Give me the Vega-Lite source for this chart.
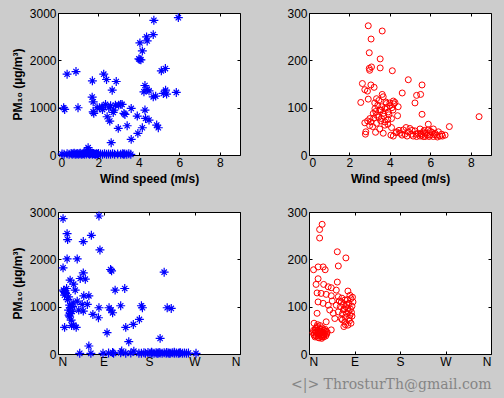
{
  "$schema": "https://vega.github.io/schema/vega-lite/v6.json",
  "background": "#cccccc",
  "padding": {"left": 10, "top": 6, "right": 12, "bottom": 6},
  "config": {
    "view": {"fill": "white", "stroke": "black", "strokeWidth": 1},
    "axis": {
      "domain": false, "grid": false, "tickColor": "black", "tickSize": -3, "tickWidth": 1, "format": "d",
      "labelFont": "Liberation Sans", "labelFontSize": 12, "labelColor": "black", "labelPadding": 5,
      "titleFont": "Liberation Sans", "titleFontSize": 12, "titleFontWeight": "bold", "titleColor": "black", "titlePadding": 5
    }
  },
  "datasets": {
    "bs": [
      {"w":4.74,"pm":2845},{"w":5.95,"pm":2902},{"w":4.71,"pm":2543},{"w":4.38,"pm":2494},{"w":4.41,"pm":2410},{"w":4.05,"pm":2368},{"w":4.17,"pm":2199},{"w":4.05,"pm":2016},{"w":4.0,"pm":2030},{"w":4.1,"pm":2010},
      {"w":0.45,"pm":1707},{"w":0.89,"pm":1763},{"w":1.70,"pm":1567},{"w":2.26,"pm":1707},{"w":2.40,"pm":1595},{"w":2.88,"pm":1553},{"w":2.68,"pm":1370},{"w":5.11,"pm":1778},{"w":5.31,"pm":1827},{"w":4.30,"pm":1468},
      {"w":4.25,"pm":1335},{"w":4.50,"pm":1356},{"w":4.41,"pm":1384},{"w":4.71,"pm":1230},{"w":4.83,"pm":1244},{"w":5.32,"pm":1370},{"w":5.37,"pm":1286},{"w":5.21,"pm":1300},{"w":5.85,"pm":1321},{"w":1.69,"pm":1223},
      {"w":1.74,"pm":1124},{"w":0.28,"pm":998},{"w":0.33,"pm":963},{"w":0.99,"pm":998},{"w":1.74,"pm":913},{"w":1.77,"pm":880},{"w":1.93,"pm":998},{"w":2.18,"pm":1019},{"w":2.35,"pm":1068},{"w":2.51,"pm":998},
      {"w":2.84,"pm":1054},{"w":3.0,"pm":1054},{"w":3.17,"pm":1068},{"w":3.1,"pm":1070},{"w":2.73,"pm":899},{"w":2.76,"pm":949},{"w":3.26,"pm":878},{"w":3.31,"pm":857},{"w":3.62,"pm":984},{"w":2.43,"pm":808},
      {"w":2.56,"pm":717},{"w":2.98,"pm":562},{"w":3.42,"pm":618},{"w":3.92,"pm":822},{"w":4.30,"pm":949},{"w":4.33,"pm":773},{"w":4.50,"pm":738},{"w":4.88,"pm":632},{"w":4.96,"pm":576},{"w":4.17,"pm":576},
      {"w":3.95,"pm":457},{"w":3.62,"pm":330},{"w":2.63,"pm":260},{"w":1.49,"pm":155},{"w":2.05,"pm":1000},{"w":2.2,"pm":960},{"w":2.6,"pm":1040},
      {"w":0.2,"pm":20},{"w":0.3,"pm":15},{"w":0.45,"pm":25},{"w":0.55,"pm":15},{"w":0.65,"pm":30},{"w":0.7,"pm":15},{"w":0.75,"pm":25},{"w":0.8,"pm":40},{"w":0.85,"pm":15},{"w":0.9,"pm":20},
      {"w":0.95,"pm":30},{"w":1.0,"pm":15},{"w":1.05,"pm":25},{"w":1.1,"pm":35},{"w":1.15,"pm":15},{"w":1.2,"pm":20},{"w":1.25,"pm":30},{"w":1.3,"pm":15},{"w":1.35,"pm":45},{"w":1.4,"pm":20},
      {"w":1.45,"pm":60},{"w":1.5,"pm":30},{"w":1.55,"pm":15},{"w":1.6,"pm":25},{"w":1.65,"pm":40},{"w":1.7,"pm":15},{"w":1.75,"pm":30},{"w":1.8,"pm":20},{"w":1.85,"pm":15},{"w":1.9,"pm":25},
      {"w":1.95,"pm":15},{"w":2.0,"pm":30},{"w":2.1,"pm":20},{"w":2.2,"pm":15},{"w":2.3,"pm":25},{"w":2.4,"pm":15},{"w":2.5,"pm":20},{"w":2.6,"pm":15},{"w":2.7,"pm":25},{"w":2.8,"pm":15},
      {"w":2.95,"pm":20},{"w":3.1,"pm":15},{"w":3.2,"pm":25},{"w":3.25,"pm":15},{"w":3.3,"pm":20},{"w":3.4,"pm":15},{"w":3.5,"pm":25},{"w":3.6,"pm":15},{"w":1.4,"pm":90},{"w":1.6,"pm":70}
    ],
    "rs": [
      {"w":2.93,"pm":273},{"w":3.62,"pm":262},{"w":3.07,"pm":245},{"w":2.98,"pm":216},{"w":3.52,"pm":203},{"w":2.98,"pm":183},{"w":3.09,"pm":186},{"w":3.0,"pm":179},{"w":3.52,"pm":184},{"w":4.12,"pm":178},
      {"w":4.91,"pm":159},{"w":5.59,"pm":148},{"w":2.64,"pm":151},{"w":3.06,"pm":148},{"w":3.22,"pm":143},{"w":2.76,"pm":138},{"w":2.89,"pm":135},{"w":4.61,"pm":131},{"w":3.62,"pm":128},{"w":3.67,"pm":123},
      {"w":5.32,"pm":126},{"w":5.52,"pm":128},{"w":5.24,"pm":110},{"w":2.56,"pm":111},{"w":2.93,"pm":118},{"w":3.34,"pm":119},{"w":3.83,"pm":109},{"w":4.17,"pm":114},{"w":4.25,"pm":111},{"w":4.0,"pm":104},
      {"w":4.41,"pm":102},{"w":3.26,"pm":98},{"w":3.5,"pm":95},{"w":3.75,"pm":98},{"w":3.18,"pm":88},{"w":3.34,"pm":84},{"w":3.67,"pm":88},{"w":3.92,"pm":91},{"w":4.38,"pm":83},{"w":5.59,"pm":86},
      {"w":8.41,"pm":81},{"w":3.01,"pm":77},{"w":3.59,"pm":77},{"w":4.08,"pm":77},{"w":2.76,"pm":68},{"w":3.06,"pm":70},{"w":3.34,"pm":67},{"w":3.75,"pm":63},{"w":4.08,"pm":58},{"w":5.9,"pm":65},
      {"w":6.94,"pm":60},{"w":2.81,"pm":49},{"w":2.79,"pm":44},{"w":3.29,"pm":48},{"w":3.67,"pm":46},{"w":4.05,"pm":42},{"w":4.17,"pm":40},
      {"w":3.4,"pm":105},{"w":3.3,"pm":92},{"w":3.45,"pm":80},{"w":3.55,"pm":72},{"w":3.7,"pm":82},{"w":3.85,"pm":100},{"w":3.9,"pm":75},{"w":4.0,"pm":110},{"w":4.1,"pm":100},{"w":4.2,"pm":108},
      {"w":3.8,"pm":112},{"w":3.6,"pm":102},{"w":3.2,"pm":78},{"w":3.15,"pm":60},{"w":3.5,"pm":55},{"w":3.9,"pm":65},{"w":4.3,"pm":47},{"w":3.0,"pm":62},{"w":2.9,"pm":72},{"w":3.25,"pm":110},
      {"w":3.45,"pm":115},{"w":3.55,"pm":95},{"w":3.75,"pm":70},{"w":3.95,"pm":85},{"w":4.15,"pm":95},
      {"w":4.33,"pm":49},{"w":4.5,"pm":46},{"w":4.66,"pm":53},{"w":4.74,"pm":44},{"w":4.91,"pm":49},{"w":4.99,"pm":56},{"w":5.07,"pm":44},{"w":5.24,"pm":51},{"w":5.4,"pm":46},{"w":5.49,"pm":55},
      {"w":5.57,"pm":42},{"w":5.65,"pm":49},{"w":5.74,"pm":39},{"w":5.82,"pm":46},{"w":5.9,"pm":53},{"w":5.98,"pm":42},{"w":6.07,"pm":48},{"w":6.15,"pm":39},{"w":6.23,"pm":46},{"w":6.31,"pm":42},
      {"w":6.4,"pm":49},{"w":6.48,"pm":40},{"w":6.56,"pm":44},{"w":6.73,"pm":42},{"w":6.15,"pm":55},{"w":5.49,"pm":40},{"w":5.65,"pm":39},{"w":5.32,"pm":39},{"w":5.94,"pm":39},{"w":5.74,"pm":46},
      {"w":4.8,"pm":58},{"w":4.6,"pm":42},{"w":5.1,"pm":52},{"w":5.3,"pm":44},{"w":5.85,"pm":42},{"w":6.0,"pm":50},{"w":6.35,"pm":38},{"w":6.6,"pm":40},{"w":5.55,"pm":45},{"w":4.45,"pm":52},
      {"w":4.85,"pm":40},{"w":5.15,"pm":40},{"w":6.2,"pm":43},{"w":5.7,"pm":52}
    ],
    "bd": [
      {"d":10,"pm":2860},{"d":81,"pm":2916},{"d":18,"pm":2543},{"d":19,"pm":2417},{"d":66,"pm":2508},{"d":50,"pm":2375},{"d":83,"pm":2199},{"d":18,"pm":2009},{"d":38,"pm":2009},{"d":10,"pm":1820},
      {"d":50,"pm":1714},{"d":104,"pm":1785},{"d":106,"pm":1757},{"d":210,"pm":1728},{"d":24,"pm":1560},{"d":31,"pm":1475},{"d":44,"pm":1595},{"d":54,"pm":1581},{"d":113,"pm":1349},{"d":132,"pm":1384},
      {"d":11,"pm":1349},{"d":15,"pm":1279},{"d":17,"pm":1384},{"d":13,"pm":1244},{"d":21,"pm":1208},{"d":34,"pm":1349},{"d":51,"pm":1230},{"d":61,"pm":1230},{"d":38,"pm":1117},{"d":48,"pm":1047},
      {"d":58,"pm":1047},{"d":23,"pm":1033},{"d":21,"pm":927},{"d":24,"pm":857},{"d":23,"pm":787},{"d":26,"pm":717},{"d":41,"pm":927},{"d":50,"pm":906},{"d":69,"pm":836},{"d":80,"pm":766},
      {"d":81,"pm":977},{"d":101,"pm":977},{"d":105,"pm":927},{"d":108,"pm":871},{"d":124,"pm":1019},{"d":165,"pm":1019},{"d":167,"pm":977},{"d":216,"pm":977},{"d":224,"pm":963},{"d":13,"pm":562},
      {"d":31,"pm":611},{"d":36,"pm":562},{"d":134,"pm":562},{"d":149,"pm":625},{"d":161,"pm":731},{"d":97,"pm":450},{"d":140,"pm":260},{"d":202,"pm":330},{"d":61,"pm":169},{"d":126,"pm":63},
      {"d":25,"pm":980},{"d":28,"pm":900},{"d":22,"pm":820},{"d":14,"pm":1300},{"d":19,"pm":1150},{"d":12,"pm":1320},{"d":30,"pm":1080},{"d":27,"pm":600},{"d":29,"pm":1000},
      {"d":43,"pm":15},{"d":65,"pm":15},{"d":89,"pm":15},{"d":100,"pm":20},{"d":108,"pm":30},{"d":110,"pm":15},{"d":124,"pm":25},{"d":134,"pm":15},{"d":144,"pm":20},{"d":150,"pm":60},
      {"d":165,"pm":15},{"d":170,"pm":25},{"d":173,"pm":15},{"d":178,"pm":30},{"d":182,"pm":15},{"d":186,"pm":20},{"d":190,"pm":15},{"d":194,"pm":25},{"d":198,"pm":15},{"d":202,"pm":20},
      {"d":206,"pm":15},{"d":210,"pm":25},{"d":214,"pm":15},{"d":218,"pm":20},{"d":222,"pm":15},{"d":226,"pm":25},{"d":230,"pm":15},{"d":234,"pm":20},{"d":238,"pm":15},{"d":242,"pm":25},
      {"d":246,"pm":15},{"d":250,"pm":20},{"d":254,"pm":15},{"d":258,"pm":20},{"d":273,"pm":15},{"d":160,"pm":15},{"d":185,"pm":35},{"d":200,"pm":30},{"d":215,"pm":30},{"d":230,"pm":35},
      {"d":240,"pm":20},{"d":196,"pm":15},{"d":220,"pm":15}
    ],
    "rd": [
      {"d":26,"pm":274},{"d":21,"pm":263},{"d":21,"pm":245},{"d":56,"pm":216},{"d":73,"pm":203},{"d":58,"pm":186},{"d":9,"pm":178},{"d":18,"pm":184},{"d":28,"pm":184},{"d":32,"pm":178},
      {"d":18,"pm":159},{"d":56,"pm":152},{"d":14,"pm":147},{"d":29,"pm":147},{"d":38,"pm":142},{"d":44,"pm":140},{"d":54,"pm":135},{"d":77,"pm":133},{"d":81,"pm":124},{"d":16,"pm":129},
      {"d":24,"pm":128},{"d":34,"pm":126},{"d":44,"pm":123},{"d":58,"pm":121},{"d":18,"pm":110},{"d":28,"pm":107},{"d":38,"pm":103},{"d":46,"pm":112},{"d":54,"pm":103},{"d":64,"pm":110},
      {"d":71,"pm":114},{"d":79,"pm":107},{"d":85,"pm":101},{"d":87,"pm":110},{"d":83,"pm":117},{"d":16,"pm":86},{"d":41,"pm":93},{"d":48,"pm":86},{"d":58,"pm":89},{"d":68,"pm":93},
      {"d":74,"pm":86},{"d":81,"pm":82},{"d":77,"pm":96},{"d":51,"pm":75},{"d":64,"pm":75},{"d":71,"pm":68},{"d":77,"pm":61},{"d":69,"pm":58},{"d":44,"pm":51},{"d":34,"pm":68},
      {"d":10,"pm":65},{"d":62,"pm":100},{"d":66,"pm":85},{"d":70,"pm":95},{"d":72,"pm":78},{"d":75,"pm":105},{"d":78,"pm":90},{"d":80,"pm":70},{"d":82,"pm":95},{"d":84,"pm":88},
      {"d":86,"pm":120},{"d":76,"pm":115},{"d":73,"pm":100},{"d":68,"pm":105},{"d":65,"pm":118},{"d":60,"pm":112},{"d":79,"pm":75},{"d":83,"pm":65},{"d":72,"pm":62},{"d":66,"pm":72},
      {"d":85,"pm":80},
      {"d":8,"pm":45},{"d":10,"pm":40},{"d":12,"pm":50},{"d":14,"pm":38},{"d":15,"pm":55},{"d":17,"pm":45},{"d":18,"pm":35},{"d":20,"pm":42},{"d":21,"pm":52},{"d":22,"pm":60},
      {"d":24,"pm":38},{"d":25,"pm":47},{"d":26,"pm":55},{"d":28,"pm":40},{"d":29,"pm":36},{"d":30,"pm":50},{"d":31,"pm":44},{"d":33,"pm":38},{"d":34,"pm":48},{"d":35,"pm":42},
      {"d":12,"pm":36},{"d":14,"pm":46},{"d":16,"pm":58},{"d":18,"pm":50},{"d":20,"pm":34},{"d":22,"pm":44},{"d":24,"pm":52},{"d":26,"pm":36},{"d":28,"pm":46},{"d":30,"pm":40},
      {"d":32,"pm":52},{"d":11,"pm":44},{"d":13,"pm":54},{"d":19,"pm":40},{"d":23,"pm":48},{"d":27,"pm":42},{"d":9,"pm":50},{"d":36,"pm":46},{"d":17,"pm":62},{"d":25,"pm":33}
    ]
  },
  "columns": 2,
  "bounds": "flush",
  "spacing": {"row": 57, "column": 69},
  "concat": [
    {
      "width": 182, "height": 142,
      "data": {"name": "bs"},
      "layer": [
        {
          "mark": {"type": "point", "shape": "M-1,0L1,0M0,-1L0,1M-0.6,-0.6L0.6,0.6M-0.6,0.6L0.6,-0.6", "filled": false, "color": "#0000ff", "strokeWidth": 1.2, "size": 80, "opacity": 1},
          "encoding": {
            "x": {"field": "w", "type": "quantitative", "scale": {"domain": [0, 9], "nice": false}, "axis": {"values": [0, 2, 4, 6, 8], "title": "Wind speed (m/s)"}},
            "y": {"field": "pm", "type": "quantitative", "scale": {"domain": [0, 3000], "nice": false}, "axis": {"values": [0, 1000, 2000, 3000], "title": "PM₁₀  (µg/m³)"}}
          }
        },
        {
          "mark": {"type": "point", "opacity": 0},
          "encoding": {
            "x": {"field": "w", "type": "quantitative", "axis": {"orient": "top", "values": [0, 2, 4, 6, 8], "labels": false, "title": null}},
            "y": {"field": "pm", "type": "quantitative", "axis": {"orient": "right", "values": [0, 1000, 2000, 3000], "labels": false, "title": null}}
          }
        }
      ],
      "resolve": {"axis": {"x": "independent", "y": "independent"}}
    },
    {
      "width": 182, "height": 142,
      "data": {"name": "rs"},
      "layer": [
        {
          "mark": {"type": "point", "shape": "circle", "filled": false, "color": "#ff0000", "strokeWidth": 1, "size": 36, "opacity": 1},
          "encoding": {
            "x": {"field": "w", "type": "quantitative", "scale": {"domain": [0, 9], "nice": false}, "axis": {"values": [0, 2, 4, 6, 8], "title": "Wind speed (m/s)"}},
            "y": {"field": "pm", "type": "quantitative", "scale": {"domain": [0, 300], "nice": false}, "axis": {"values": [0, 100, 200, 300], "title": null}}
          }
        },
        {
          "mark": {"type": "point", "opacity": 0},
          "encoding": {
            "x": {"field": "w", "type": "quantitative", "axis": {"orient": "top", "values": [0, 2, 4, 6, 8], "labels": false, "title": null}},
            "y": {"field": "pm", "type": "quantitative", "axis": {"orient": "right", "values": [0, 100, 200, 300], "labels": false, "title": null}}
          }
        }
      ],
      "resolve": {"axis": {"x": "independent", "y": "independent"}}
    },
    {
      "width": 182, "height": 142,
      "data": {"name": "bd"},
      "layer": [
        {
          "mark": {"type": "point", "shape": "M-1,0L1,0M0,-1L0,1M-0.6,-0.6L0.6,0.6M-0.6,0.6L0.6,-0.6", "filled": false, "color": "#0000ff", "strokeWidth": 1.2, "size": 80, "opacity": 1},
          "encoding": {
            "x": {"field": "d", "type": "quantitative", "scale": {"domain": [0, 360], "nice": false}, "axis": {"values": [0, 90, 180, 270, 360], "labelExpr": "['N','E','S','W','N'][round(datum.value/90)]", "title": null}},
            "y": {"field": "pm", "type": "quantitative", "scale": {"domain": [0, 3000], "nice": false}, "axis": {"values": [0, 1000, 2000, 3000], "title": "PM₁₀  (µg/m³)"}}
          }
        },
        {
          "mark": {"type": "point", "opacity": 0},
          "encoding": {
            "x": {"field": "d", "type": "quantitative", "axis": {"orient": "top", "values": [0, 90, 180, 270, 360], "labels": false, "title": null}},
            "y": {"field": "pm", "type": "quantitative", "axis": {"orient": "right", "values": [0, 1000, 2000, 3000], "labels": false, "title": null}}
          }
        }
      ],
      "resolve": {"axis": {"x": "independent", "y": "independent"}}
    },
    {
      "width": 182, "height": 142,
      "data": {"name": "rd"},
      "title": {"text": "<|> ThrosturTh@gmail.com", "orient": "bottom", "anchor": "end", "font": "DejaVu Serif", "fontSize": 14, "fontWeight": "normal", "color": "#858585", "offset": 11},
      "layer": [
        {
          "mark": {"type": "point", "shape": "circle", "filled": false, "color": "#ff0000", "strokeWidth": 1, "size": 36, "opacity": 1},
          "encoding": {
            "x": {"field": "d", "type": "quantitative", "scale": {"domain": [0, 360], "nice": false}, "axis": {"values": [0, 90, 180, 270, 360], "labelExpr": "['N','E','S','W','N'][round(datum.value/90)]", "title": null}},
            "y": {"field": "pm", "type": "quantitative", "scale": {"domain": [0, 300], "nice": false}, "axis": {"values": [0, 100, 200, 300], "title": null}}
          }
        },
        {
          "mark": {"type": "point", "opacity": 0},
          "encoding": {
            "x": {"field": "d", "type": "quantitative", "axis": {"orient": "top", "values": [0, 90, 180, 270, 360], "labels": false, "title": null}},
            "y": {"field": "pm", "type": "quantitative", "axis": {"orient": "right", "values": [0, 100, 200, 300], "labels": false, "title": null}}
          }
        }
      ],
      "resolve": {"axis": {"x": "independent", "y": "independent"}}
    }
  ]
}
